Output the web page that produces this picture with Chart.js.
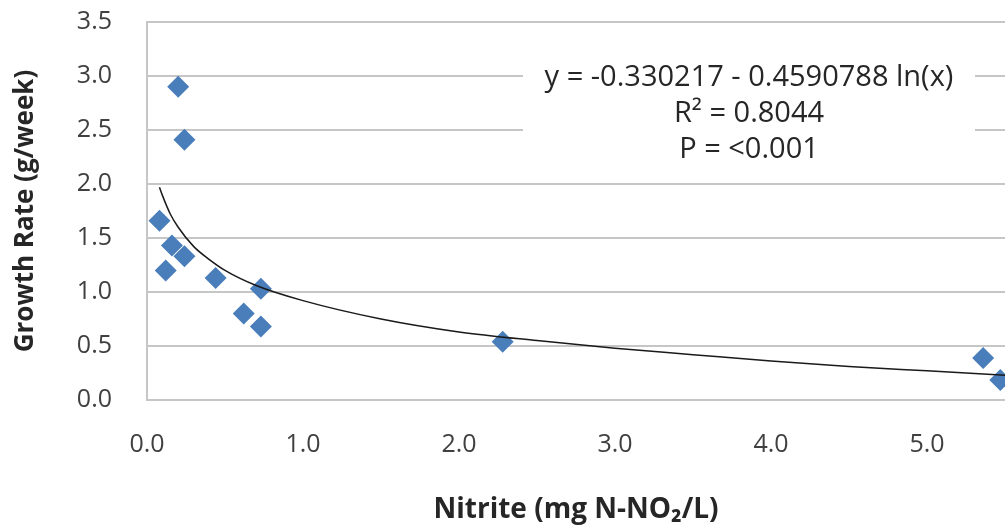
<!DOCTYPE html>
<html lang="en">
<head>
    <meta charset="UTF-8">
    <title>Growth Rate vs Nitrite</title>
    <script src="https://cdn.jsdelivr.net/npm/chart.js"></script>
    <style>
        body {
            margin: 0;
            background: #fff;
            font-family: "Open Sans", Lato, sans-serif;
        }

        .wrap {
            position: relative;
            width: 1005px;
            height: 530px;
        }

        .eq {
            position: absolute;
            left: 523px;
            top: 56px;
            width: 452px;
            height: 112px;
            background: #fff;
            text-align: center;
            font-size: 29px;
            line-height: 36px;
            color: #262626;
            padding-top: 1px;
        }
    </style>
</head>
<body>
    <div class="wrap">
        <canvas id="chart" width="1005" height="530"></canvas>
        <div class="eq">
            y = -0.330217 - 0.4590788 ln(x)<br>
            R² = 0.8044<br>
            P = &lt;0.001
        </div>
    </div>

    <script>
        // measured points (nitrite, growth rate)
        const nitrite = [0.20, 0.24, 0.08, 0.16, 0.24, 0.12, 0.44, 0.73, 0.62, 0.73, 2.28, 5.36, 5.47];
        const growth = [2.90, 2.41, 1.66, 1.43, 1.33, 1.20, 1.13, 1.03, 0.80, 0.68, 0.54, 0.39, 0.185];

        // log trend line
        const trendX = [0.08, 0.1, 0.15, 0.2, 0.3, 0.4, 0.5, 0.7, 1.0, 1.5, 2.0, 2.5, 3.0, 3.5, 4.0, 4.5, 5.0, 5.5];
        const trendY = [1.97, 1.89, 1.72, 1.60, 1.42, 1.30, 1.20, 1.06, 0.92, 0.75, 0.63, 0.55, 0.48, 0.42, 0.36, 0.31, 0.27, 0.23];

        const xTicks = [0, 1, 2, 3, 4, 5];

        const gridColor = '#c6c6c6';
        const labelColor = '#404040';
        const fontName = 'Open Sans';

        const ctx = document.getElementById('chart').getContext('2d');
        new Chart(ctx, {
            type: 'scatter',
            data: {
                datasets: [{
                    label: 'Growth rate',
                    data: nitrite.map((x, i) => ({ x: x, y: growth[i] })),
                    pointStyle: 'rectRot',
                    pointRadius: 11,
                    pointBackgroundColor: '#4a7ebb',
                    pointBorderWidth: 0,
                    order: 2
                }, {
                    label: 'Trend',
                    data: trendX.map((x, i) => ({ x: x, y: trendY[i] })),
                    showLine: true,
                    pointRadius: 0,
                    borderColor: '#1a1a1a',
                    borderWidth: 1.5,
                    cubicInterpolationMode: 'monotone',
                    order: 1
                }]
            },
            options: {
                responsive: false,
                animation: false,
                layout: {
                    autoPadding: false,
                    padding: { top: 22, right: 0, left: 0, bottom: 0 }
                },
                plugins: {
                    legend: { display: false },
                    tooltip: { enabled: false }
                },
                scales: {
                    x: {
                        type: 'linear',
                        min: 0,
                        max: 5.5,
                        afterBuildTicks: axis => {
                            axis.ticks = xTicks.map(v => ({ value: v }));
                        },
                        afterFit: axis => {
                            axis.height = 130;
                            axis.paddingLeft = 0;
                            axis.paddingRight = 0;
                        },
                        grid: { display: false },
                        border: { display: false },
                        ticks: {
                            padding: 22,
                            color: labelColor,
                            font: { family: fontName, size: 25 },
                            callback: v => v.toFixed(1)
                        },
                        title: {
                            display: true,
                            text: 'Nitrite (mg N-NO₂/L)',
                            color: '#262626',
                            font: { family: fontName, size: 28, weight: 'bold' },
                            padding: { top: 0, bottom: 3 }
                        }
                    },
                    y: {
                        min: 0,
                        max: 3.5,
                        afterFit: axis => {
                            axis.width = 147;
                            axis.paddingTop = 0;
                            axis.paddingBottom = 0;
                        },
                        grid: {
                            color: gridColor,
                            lineWidth: 2,
                            drawTicks: false
                        },
                        border: { color: gridColor, width: 2 },
                        ticks: {
                            stepSize: 0.5,
                            padding: 35,
                            color: labelColor,
                            font: { family: fontName, size: 25 },
                            callback: v => v.toFixed(1)
                        },
                        title: {
                            display: true,
                            text: 'Growth Rate (g/week)',
                            color: '#262626',
                            font: { family: fontName, size: 26, weight: 'bold' },
                            padding: { top: 10, bottom: 0 }
                        }
                    }
                }
            }
        });
    </script>
</body>
</html>
